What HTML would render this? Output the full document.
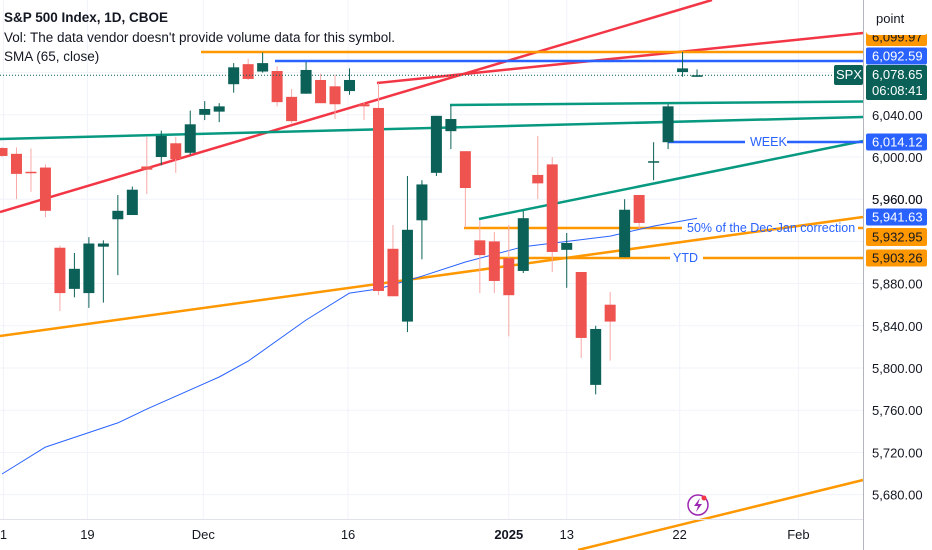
<!DOCTYPE html>
<html><head><meta charset="utf-8"><style>
body{margin:0;background:#fff;}
svg{display:block;font-family:"Liberation Sans",sans-serif;}
</style></head><body>
<svg id="chart" width="932" height="550" xmlns="http://www.w3.org/2000/svg">
<g id="grid"></g>
<g id="drawings"></g>
<g id="sma"></g>
<g id="candles"></g>
<line x1="863.5" y1="0" x2="863.5" y2="550" stroke="#b2b5be"/>
<line x1="0" y1="519.5" x2="863" y2="519.5" stroke="#e0e3eb"/>
<g id="yaxis"></g>
<g id="xaxis"></g>
<g font-size="13.5" fill="#131722">
<text x="4" y="22" font-weight="bold">S&amp;P 500 Index, 1D, CBOE</text>
<text x="4" y="42">Vol: The data vendor doesn't provide volume data for this symbol.</text>
<text x="4" y="61">SMA (65, close)</text>
</g>
<circle cx="698" cy="505" r="10" fill="#fff" stroke="#9c27b0" stroke-width="1.5"/>
<path d="M700 498 L694 506 L698 506 L696 512 L702 504 L698 504 Z" fill="#9c27b0"/>
<circle cx="704" cy="498" r="2.5" fill="#f23645"/>
</svg>
<script>
const opens=[6008.5,6003,5986,5990,5914,5875,5871,5915,5941,5945,5991,6000,6013,6004,6040,6043,6069,6088,6081,6081.5,6057,6060,6073,6067,6062.5,6050,6046.5,5913,5844,5940,5985,6024.5,6005.5,5921,5920,5904,5892,5983,5993,5912,5891,5784,5860,5905,5964,5995,6014,6080.5,6076];
const highs=[6009.5,6009,6008,5993,5916,5909,5924,5921,5964,5972,6019,6025,6019,6044,6053,6051,6089,6093,6099,6086,6064.5,6090,6079,6078,6084,6052,6070,5935.5,5982,5978,6039,6049,6005.5,5940,5929,5935.5,5949,6020,6000,5928,5891,5840,5872,5960,5964,6014,6050,6099.5,6083];
const lows=[6000,5960,5967,5943,5854,5867,5857,5862,5888,5945,5965,5992,5985,6002,6035,6033,6061,6073,6080,6048,6032,6060,6051,6036,6059,6035,5869,5868,5834,5903,5982,6007.5,5933,5871,5871,5830,5890,5960,5891,5876,5809.5,5775,5807,5905,5932,5978,6007.5,6076,6076];
const closes=[6001,5984,5985,5949,5871,5894,5918,5918,5949,5969,5988,6020,5998,6031,6045.5,6048,6085,6074,6089,6052,6034,6082.5,6051,6050,6073,6048,5873,5868,5931,5974,6039,6036,5970.6,5907,5882.5,5869,5942,5975,5910,5918.5,5828.5,5837,5844,5950,5937.5,5996,6048,6084,6077.5];
const smaIdx=[0,3,8,10,15,17,21,24,26,29,32,36,42,45,48];
const smaVal=[5699.5,5725,5748,5761,5791.5,5806.5,5845.5,5871,5875,5887,5900.5,5915,5925,5934.5,5942];
const priceTicks=[6040,6000,5960,5880,5840,5800,5760,5720,5680];
const dateLabels=["1","19","Dec","16","2025","13","22","Feb"];
const dateIdx=[0.1,5.9,13.9,23.9,35,39,46.8,55];

const NS="http://www.w3.org/2000/svg";
const y=p=>157-(p-6000)*1.055;
const x=i=>2+i*14.48;
function mk(tag,parent,attrs){const e=document.createElementNS(NS,tag);for(const k in attrs)e.setAttribute(k,attrs[k]);parent.appendChild(e);return e;}
const G=id=>document.getElementById(id);

// grid
priceTicks.concat([5920,6080]).forEach(p=>{const l=mk('line',G('grid'),{x1:0,x2:863,y1:y(p),y2:y(p),stroke:'#f0f3fa'});

});
dateIdx.forEach(i=>{const l=mk('line',G('grid'),{x1:x(i),x2:x(i),y1:0,y2:519,stroke:'#f0f3fa'});

});

// drawings
const D=G('drawings');
function ln(x1,y1,x2,y2,c,w,name){const l=mk('line',D,{x1,y1,x2,y2,stroke:c,'stroke-width':w});

}
const RED='#f23645',GRN='#089981',ORG='#ff9800',BLU='#2962ff';
ln(0,212,712,0,RED,2.5,'red-trendline-steep');
ln(377,83,863,33,RED,2.5,'red-trendline-upper');
ln(201,52,863,52,ORG,2.5,'orange-high-line');
ln(275,61,863,61,BLU,2.5,'blue-high-line');
ln(0,139,863,117,GRN,2.5,'green-trendline-long');
ln(450,105,863,101.5,GRN,2.5,'green-upper-line');
ln(479,219,863,141,GRN,2.5,'green-channel-line');
ln(668,142,745,142,BLU,2.5,'week-line');
ln(787,142,863,142,BLU,2.5,'week-line-right');
ln(464,228,682,228,ORG,2.5,'fifty-percent-line');
ln(858,228,863,228,ORG,2.5,'fifty-percent-line-right');
ln(490,258,670,258,ORG,2.5,'ytd-line');
ln(703,258,863,258,ORG,2.5,'ytd-line-right');
ln(0,336,863,217,ORG,2.5,'orange-rising-line');
ln(578,550,863,480,ORG,2.5,'orange-bottom-line');
function lbl(tx,ty,s,name){const t=mk('text',D,{x:tx,y:ty,fill:BLU,'font-size':12.5});t.textContent=s;

}
lbl(750,146,'WEEK','week-label');
lbl(687,232,'50% of the Dec-Jan correction','fifty-percent-label');
lbl(673,262,'YTD','ytd-label');

// SMA
let d='';smaIdx.forEach((i,k)=>{d+=(k?'L':'M')+x(i).toFixed(1)+' '+y(smaVal[k]).toFixed(1);});
const sp=mk('path',G('sma'),{d,fill:'none',stroke:BLU,'stroke-width':1,'stroke-linejoin':'round'});



// candles
const C=G('candles');
opens.forEach((o,i)=>{const c=closes[i];const up=c>=o;const col=up?'#0b6157':'#ef5350';const cx=x(i);
const w=mk('line',C,{x1:cx,x2:cx,y1:y(highs[i]),y2:y(lows[i]),stroke:up?col:'#f7a9a7','stroke-width':1});


const top=y(Math.max(o,c)),bot=y(Math.min(o,c));
const b=mk('rect',C,{x:cx-5.5,y:top,width:11,height:Math.max(1.5,bot-top),fill:col});

});
const lp=mk('line',C,{x1:0,x2:863,y1:y(closes[closes.length-1]),y2:y(closes[closes.length-1]),stroke:'#0b6157','stroke-dasharray':'1 2'});



// y axis
const Y=G('yaxis');
priceTicks.concat([5960]).forEach(p=>{const t=mk('text',Y,{x:872,y:y(p)+5,'font-size':13,fill:'#131722'});t.textContent=p.toLocaleString('en-US')+'.00';

});
function tag(cy,h,bg,fg,s,name){const r=mk('rect',Y,{x:866,y:cy-h/2,width:61,height:h,rx:2,fill:bg});


const t=mk('text',Y,{x:872,y:cy+4.5,'font-size':13,fill:fg});t.textContent=s;

}
tag(37,18,ORG,'#131722','6,099.97','red-line-price');
tag(56,17,BLU,'#fff','6,092.59','blue-line-price');
tag(142,17,BLU,'#fff','6,014.12','week-price');
tag(217,17,BLU,'#fff','5,941.63','sma-price');
tag(237,18,ORG,'#131722','5,932.95','fifty-percent-price');
tag(258,17,ORG,'#131722','5,903.26','ytd-price');
const lr=mk('rect',Y,{x:866,y:65,width:61,height:35,rx:2,fill:'#0b6157'});


const l1=mk('text',Y,{x:872,y:79,'font-size':13,fill:'#fff'});l1.textContent='6,078.65';


const l2=mk('text',Y,{x:872,y:95,'font-size':13,fill:'#fff'});l2.textContent='06:08:41';


const sr=mk('rect',Y,{x:834,y:65,width:29,height:20,rx:2,fill:'#0b6157'});


const st=mk('text',Y,{x:836,y:79,'font-size':13,fill:'#fff'});st.textContent='SPX';


const pr=mk('rect',Y,{x:866,y:4,width:62,height:31,rx:4,fill:'#fff'});


const pt=mk('text',Y,{x:876,y:23,'font-size':13,fill:'#131722'});pt.textContent='point';



// x axis
const X=G('xaxis');
dateLabels.forEach((s,k)=>{const t=mk('text',X,{x:x(dateIdx[k]),y:539,'font-size':13,fill:'#131722','text-anchor':'middle','font-weight':s==='2025'?'bold':'normal'});t.textContent=s;

});
</script>
</body></html>
